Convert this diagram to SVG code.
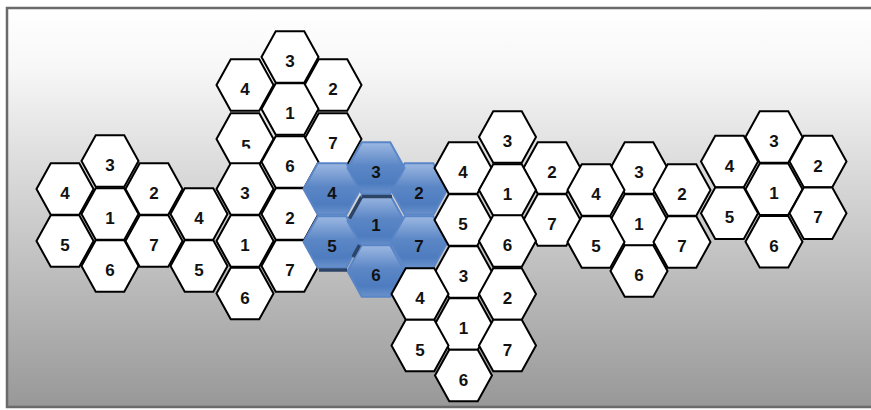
<svg xmlns="http://www.w3.org/2000/svg" xmlns:xlink="http://www.w3.org/1999/xlink" width="871" height="410" viewBox="0 0 871 410">
<style>
.w{fill:#ffffff;stroke:#000000;stroke-width:2;stroke-linejoin:miter}
.b{fill:url(#blue);stroke:#5a86c8;stroke-width:2}
.t{font-family:"Liberation Sans",Arial,sans-serif;font-weight:bold;font-size:17px;fill:#111111;text-anchor:middle}
.sh{stroke:#2c4466;stroke-width:3.5;stroke-linecap:butt;fill:none}
</style>
<defs>
<linearGradient id="bg" x1="0" y1="0" x2="0" y2="1">
<stop offset="0" stop-color="#ffffff"/>
<stop offset="0.15" stop-color="#f7f7f7"/>
<stop offset="1" stop-color="#989898"/>
</linearGradient>
<linearGradient id="blue" x1="0" y1="0" x2="0" y2="1">
<stop offset="0" stop-color="#9cb8e2"/>
<stop offset="0.45" stop-color="#5c87c6"/>
<stop offset="0.8" stop-color="#4d7cbf"/>
<stop offset="1" stop-color="#6b92cc"/>
</linearGradient>
<polygon id="hx" points="-28.5,0 -14.25,-25.75 14.25,-25.75 28.5,0 14.25,25.75 -14.25,25.75"/>
<clipPath id="cut5"><rect x="200" y="100" width="90" height="48.5"/></clipPath>
</defs>
<rect x="7" y="8" width="880" height="399" fill="url(#bg)" stroke="#6a6a6a" stroke-width="2.5"/>

<g id="clusterA">
<g id="A3"><use xlink:href="#hx" x="110" y="161" class="w"/><text x="110" y="171" class="t">3</text></g>
<g id="A4"><use xlink:href="#hx" x="65" y="189" class="w"/><text x="65" y="199" class="t">4</text></g>
<g id="A2"><use xlink:href="#hx" x="154" y="189" class="w"/><text x="154" y="199" class="t">2</text></g>
<g id="A1"><use xlink:href="#hx" x="110" y="214" class="w"/><text x="110" y="224" class="t">1</text></g>
<g id="A5"><use xlink:href="#hx" x="65" y="241" class="w"/><text x="65" y="251" class="t">5</text></g>
<g id="A7"><use xlink:href="#hx" x="154" y="241" class="w"/><text x="154" y="251" class="t">7</text></g>
<g id="A6"><use xlink:href="#hx" x="110" y="266" class="w"/><text x="110" y="276" class="t">6</text></g>
</g>

<g id="clusterB">
<g id="B3"><use xlink:href="#hx" x="290" y="57" class="w"/><text x="290" y="67" class="t">3</text></g>
<g id="B4"><use xlink:href="#hx" x="245" y="85" class="w"/><text x="245" y="95" class="t">4</text></g>
<g id="B2"><use xlink:href="#hx" x="333" y="85" class="w"/><text x="333" y="95" class="t">2</text></g>
<g id="B1"><use xlink:href="#hx" x="290" y="109" class="w"/><text x="290" y="119" class="t">1</text></g>
<g id="B5"><use xlink:href="#hx" x="245" y="139" class="w"/><text x="246" y="152" class="t" clip-path="url(#cut5)">5</text></g>
<g id="B7"><use xlink:href="#hx" x="333" y="139" class="w"/><text x="333" y="149" class="t">7</text></g>
<g id="B6"><use xlink:href="#hx" x="290" y="162" class="w"/><text x="290" y="172" class="t">6</text></g>
</g>

<g id="clusterC">
<g id="C3"><use xlink:href="#hx" x="245" y="189" class="w"/><text x="245" y="199" class="t">3</text></g>
<g id="C4"><use xlink:href="#hx" x="199" y="214" class="w"/><text x="199" y="224" class="t">4</text></g>
<g id="C2"><use xlink:href="#hx" x="290" y="214" class="w"/><text x="290" y="224" class="t">2</text></g>
<g id="C1"><use xlink:href="#hx" x="245" y="241" class="w"/><text x="245" y="251" class="t">1</text></g>
<g id="C5"><use xlink:href="#hx" x="199" y="266" class="w"/><text x="199" y="276" class="t">5</text></g>
<g id="C7"><use xlink:href="#hx" x="290" y="266" class="w"/><text x="290" y="276" class="t">7</text></g>
<g id="C6"><use xlink:href="#hx" x="245" y="293.5" class="w"/><text x="245" y="303.5" class="t">6</text></g>
</g>

<g id="clusterD">
<g id="D4"><use xlink:href="#hx" x="332" y="189" class="b"/><text x="332" y="199" class="t">4</text></g>
<g id="D5"><use xlink:href="#hx" x="332" y="242" class="b"/><text x="332" y="252" class="t">5</text></g>
<g id="D1"><use xlink:href="#hx" x="376" y="221" class="b"/><text x="376" y="231" class="t">1</text></g>
<g id="D6"><use xlink:href="#hx" x="376" y="271" class="b"/><text x="376" y="281" class="t">6</text></g>
<g id="D2"><use xlink:href="#hx" x="419" y="189" class="b"/><text x="419" y="199" class="t">2</text></g>
<g id="D7"><use xlink:href="#hx" x="419" y="242" class="b"/><text x="419" y="252" class="t">7</text></g>
<g id="D3"><use xlink:href="#hx" x="376" y="168" class="b"/><text x="376" y="178" class="t">3</text></g>
<path class="sh" d="M362,196.5 H392 M349.5,218.5 L361.5,197 M319,270 H347 M359.5,245 L353,257"/>
</g>

<g id="clusterE">
<g id="E3"><use xlink:href="#hx" x="463.5" y="272" class="w"/><text x="463.5" y="282" class="t">3</text></g>
<g id="E4"><use xlink:href="#hx" x="420" y="294" class="w"/><text x="420" y="304" class="t">4</text></g>
<g id="E2"><use xlink:href="#hx" x="507.5" y="294" class="w"/><text x="507.5" y="304" class="t">2</text></g>
<g id="E1"><use xlink:href="#hx" x="463.5" y="324" class="w"/><text x="463.5" y="334" class="t">1</text></g>
<g id="E5"><use xlink:href="#hx" x="420" y="345.5" class="w"/><text x="420" y="355.5" class="t">5</text></g>
<g id="E7"><use xlink:href="#hx" x="507.5" y="345.5" class="w"/><text x="507.5" y="355.5" class="t">7</text></g>
<g id="E6"><use xlink:href="#hx" x="463.5" y="375.5" class="w"/><text x="463.5" y="385.5" class="t">6</text></g>
</g>

<g id="clusterF">
<g id="F3"><use xlink:href="#hx" x="507.5" y="137" class="w"/><text x="507.5" y="147" class="t">3</text></g>
<g id="F4"><use xlink:href="#hx" x="463" y="168" class="w"/><text x="463" y="178" class="t">4</text></g>
<g id="F2"><use xlink:href="#hx" x="552" y="168" class="w"/><text x="552" y="178" class="t">2</text></g>
<g id="F1"><use xlink:href="#hx" x="507.5" y="190" class="w"/><text x="507.5" y="200" class="t">1</text></g>
<g id="F5"><use xlink:href="#hx" x="463" y="220" class="w"/><text x="463" y="230" class="t">5</text></g>
<g id="F7"><use xlink:href="#hx" x="552" y="220" class="w"/><text x="552" y="230" class="t">7</text></g>
<g id="F6"><use xlink:href="#hx" x="507.5" y="241" class="w"/><text x="507.5" y="251" class="t">6</text></g>
</g>

<g id="clusterG">
<g id="G3"><use xlink:href="#hx" x="639" y="168" class="w"/><text x="639" y="178" class="t">3</text></g>
<g id="G4"><use xlink:href="#hx" x="596" y="190" class="w"/><text x="596" y="200" class="t">4</text></g>
<g id="G2"><use xlink:href="#hx" x="682" y="190" class="w"/><text x="682" y="200" class="t">2</text></g>
<g id="G1"><use xlink:href="#hx" x="639" y="220" class="w"/><text x="639" y="230" class="t">1</text></g>
<g id="G5"><use xlink:href="#hx" x="596" y="242" class="w"/><text x="596" y="252" class="t">5</text></g>
<g id="G7"><use xlink:href="#hx" x="682" y="242" class="w"/><text x="682" y="252" class="t">7</text></g>
<g id="G6"><use xlink:href="#hx" x="639" y="271" class="w"/><text x="639" y="281" class="t">6</text></g>
</g>

<g id="clusterH">
<g id="H3"><use xlink:href="#hx" x="774" y="137" class="w"/><text x="774" y="147" class="t">3</text></g>
<g id="H4"><use xlink:href="#hx" x="729.5" y="161.5" class="w"/><text x="729.5" y="171.5" class="t">4</text></g>
<g id="H2"><use xlink:href="#hx" x="818" y="161.5" class="w"/><text x="818" y="171.5" class="t">2</text></g>
<g id="H1"><use xlink:href="#hx" x="774" y="189.3" class="w"/><text x="774" y="199.3" class="t">1</text></g>
<g id="H5"><use xlink:href="#hx" x="729.5" y="213.3" class="w"/><text x="729.5" y="223.3" class="t">5</text></g>
<g id="H7"><use xlink:href="#hx" x="818" y="213.3" class="w"/><text x="818" y="223.3" class="t">7</text></g>
<g id="H6"><use xlink:href="#hx" x="774" y="241.7" class="w"/><text x="774" y="251.7" class="t">6</text></g>
</g>
</svg>
